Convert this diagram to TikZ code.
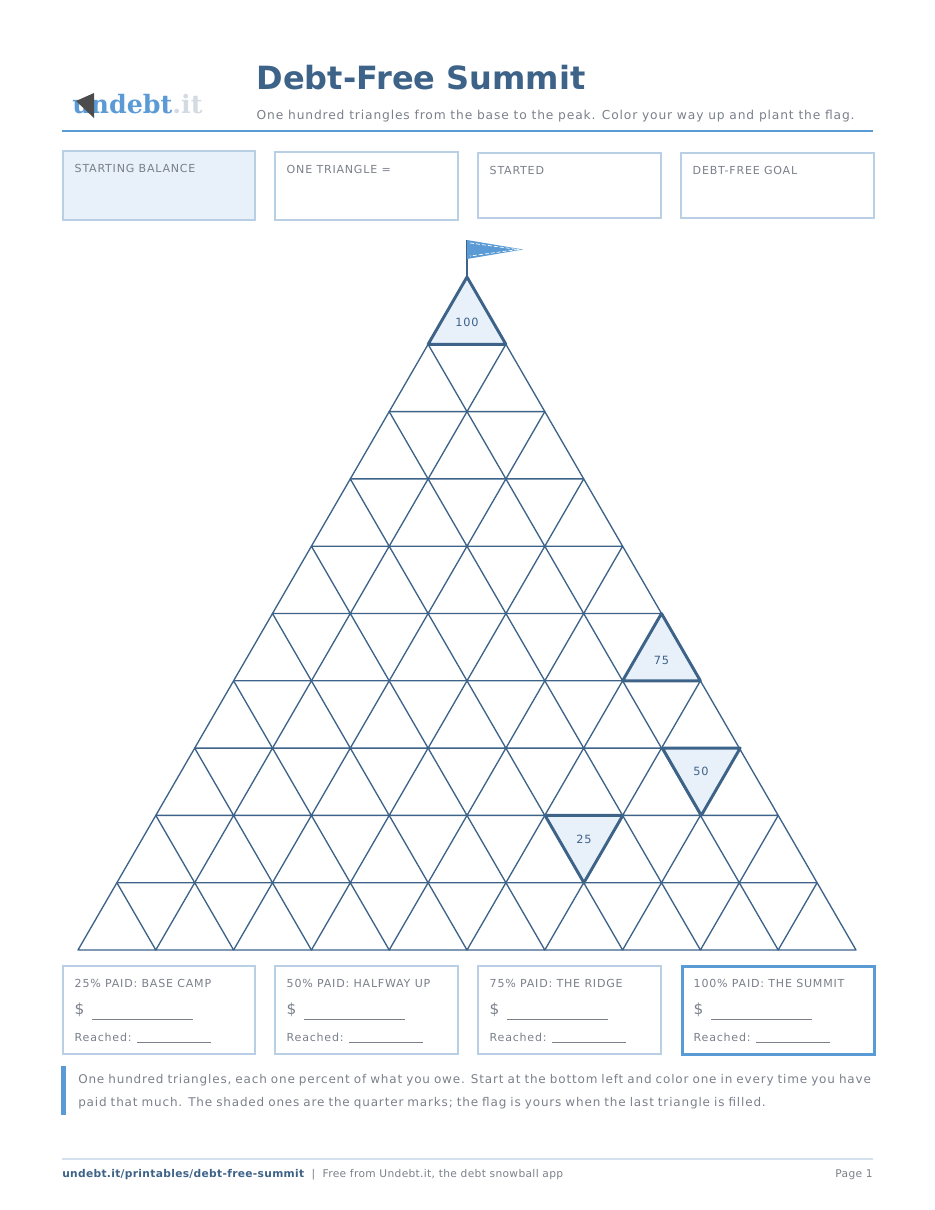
\documentclass[tikz,border=0pt]{standalone}
\usepackage{fontspec}
\setmainfont{DejaVu Sans}
\newfontfamily\slab{DejaVu Serif}
\usetikzlibrary{positioning}
\definecolor{navy}{HTML}{3D6388}
\definecolor{sky}{HTML}{5B9BD5}
\definecolor{pale}{HTML}{E8F0FA}
\definecolor{edge}{HTML}{B8CFE6}
\definecolor{ink}{HTML}{7A7F8A}
\newcommand{\wide}{\addfontfeature{LetterSpace=7}}
\tikzset{field/.style={draw=edge,line width=1.5,anchor=north west,inner sep=0pt},
         lbl/.style={anchor=north west,text=ink,font=\fontsize{8.3}{9}\selectfont\wide},
         quarter/.style={draw=navy,line width=2.2,fill=pale,line join=round},
         num/.style={text=navy,font=\fontsize{8.5}{10}\selectfont\wide}}

\begin{document}
\begin{tikzpicture}[x=0.75pt,y=-0.75pt]
\useasboundingbox (0,0) rectangle (935,1210);

% header
\node[anchor=west,inner sep=0pt,text=sky,font=\slab\bfseries\fontsize{19}{20}\selectfont] (logo) at (72,104) {undebt\textcolor{pale!80!gray}{.it}};
\fill[black!70] (76,101) -- (94,93) -- (94,118) -- cycle;
\node[anchor=west,text=navy,font=\bfseries\fontsize{24}{26}\selectfont] (title) at (252,78) {Debt-Free Summit};
\node[anchor=west,text=ink,font=\fontsize{9.2}{11}\selectfont\wide] (sub) at (252,116) {One hundred triangles from the base to the peak. Color your way up and plant the flag.};
\draw[sky,line width=2.2] (62,131) -- (873,131);

% top fields
\node[field,fill=pale,minimum width=144pt,minimum height=52pt] (f1) at (62,150) {};
\node[field,minimum width=137pt,minimum height=51pt] (f2) at (274,151) {};
\node[field,minimum width=137pt,minimum height=49pt] (f3) at (477,152) {};
\node[field,minimum width=145pt,minimum height=49pt] (f4) at (680,152) {};
\node[lbl] at (70,160) {STARTING BALANCE};
\node[lbl] at (282,161) {ONE TRIANGLE =};
\node[lbl] at (485,162) {STARTED};
\node[lbl] at (688,162) {DEBT-FREE GOAL};

% grid of triangles
\foreach \r in {0,...,9}
  \foreach \j in {0,...,\r}
    \draw[navy,line width=1,line join=round]
      ({467-38.9*\r+77.8*\j},{277+67.3*\r}) -- ++(-38.9,67.3) -- ++(77.8,0) -- cycle;

% quarter marks
\draw[quarter] (467,277) -- ++(-38.9,67.3) -- ++(77.8,0) -- cycle;
\node[num] (n100) at (467,322) {100};
\draw[quarter] (661.5,613.5) -- ++(-38.9,67.3) -- ++(77.8,0) -- cycle;
\node[num] (n75) at (661.5,660) {75};
\draw[quarter] (662.4,748.1) -- ++(77.8,0) -- ++(-38.9,67.3) -- cycle;
\node[num] (n50) at (701,771) {50};
\draw[quarter] (545,815.4) -- ++(77.8,0) -- ++(-38.9,67.3) -- cycle;
\node[num] (n25) at (584,839) {25};

% flag
\draw[navy,line width=2] (467,277) -- (467,240);
\fill[sky] (467,240) -- (523,249.5) -- (467,259) -- cycle;
\draw[white,line width=0.5,dash pattern=on 3pt off 1.5pt] (470,243) -- (518,249.5) -- (470,256);

% milestones
\foreach \x/\w/\t [count=\i] in {62/144/25\% PAID: BASE CAMP,274/137/50\% PAID: HALFWAY UP,477/137/75\% PAID: THE RIDGE}{
  \node[field,minimum width=\w pt,minimum height=66pt] (m\i) at (\x,965) {};
  \node[lbl] at (\x+8,975) {\t};
  \node[anchor=north west,text=ink,font=\fontsize{11.5}{12}\selectfont] at (\x+8,998) {\$};
  \draw[ink,line width=0.7] (\x+30,1019) -- (\x+131,1019);
  \node[lbl,font=\fontsize{8.3}{9}\selectfont\wide] at (\x+8,1028) {Reached: \rule[-1pt]{55pt}{0.3pt}};
}
\node[field,draw=sky,line width=2,minimum width=144pt,minimum height=66pt] (m4) at (681,965) {};
\node[lbl] at (689,975) {100\% PAID: THE SUMMIT};
\node[anchor=north west,text=ink,font=\fontsize{11.5}{12}\selectfont] at (689,998) {\$};
\draw[ink,line width=0.7] (711,1019) -- (812,1019);
\node[lbl,font=\fontsize{8.3}{9}\selectfont\wide] at (689,1028) {Reached: \rule[-1pt]{55pt}{0.3pt}};

% note
\fill[sky] (61,1066) rectangle (66,1115);
\node[anchor=north west,text=ink,font=\fontsize{9}{17}\selectfont\wide,text width=600pt,inner sep=0pt] (note) at (78,1074)
  {One hundred triangles, each one percent of what you owe. Start at the bottom left and color one in every time you have paid that much. The shaded ones are the quarter marks; the flag is yours when the last triangle is filled.};

% footer
\draw[edge!60,line width=0.8] (62,1159) -- (873,1159);
\node[anchor=west,inner sep=0pt,font=\fontsize{8}{9}\selectfont\addfontfeature{LetterSpace=3},text=ink] (foot) at (62,1175)
  {\textcolor{navy}{\bfseries undebt.it/printables/debt-free-summit}\ \ |\ \ Free from Undebt.it, the debt snowball app};
\node[anchor=east,inner sep=0pt,font=\fontsize{8}{9}\selectfont\addfontfeature{LetterSpace=3},text=ink] (page) at (873,1175) {Page 1};
\end{tikzpicture}
\end{document}
